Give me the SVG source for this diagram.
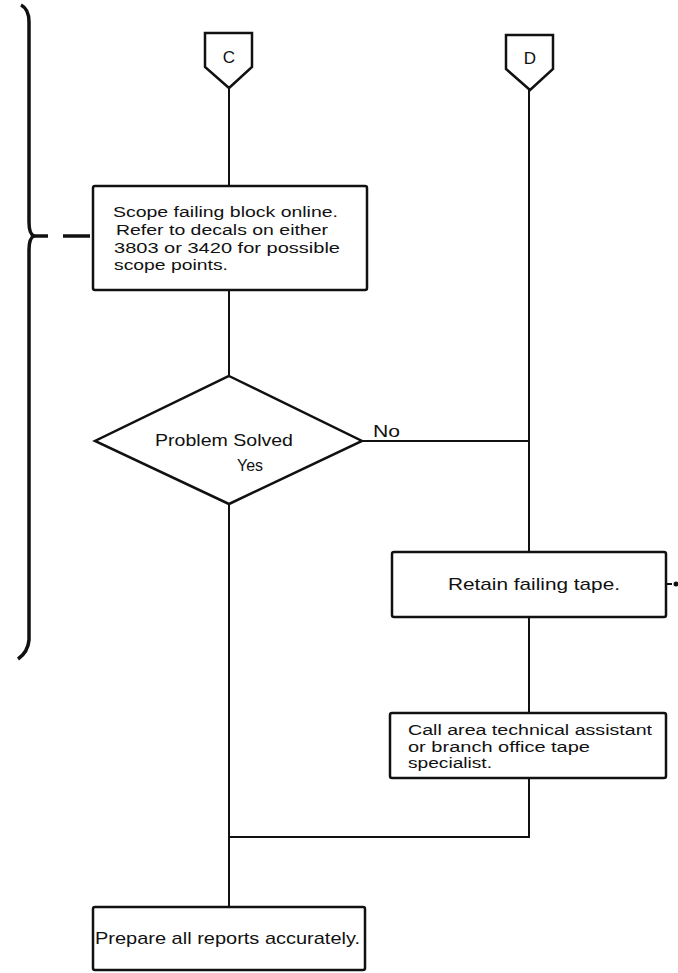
<svg xmlns="http://www.w3.org/2000/svg" width="678" height="973" viewBox="0 0 678 973">
<style>
.box{fill:#fff;stroke:#111;stroke-width:2.5;}
.ln{fill:none;stroke:#111;stroke-width:2;}
.t{font-family:"Liberation Sans",Arial,sans-serif;font-size:17px;fill:#111;}
.m{font-size:15.5px;}
.c{text-anchor:middle;}
</style>
<rect width="678" height="973" fill="#fff"/>
<g id="bracket">
<path d="M21,5 Q29,9 29,22 L29,222 Q29,234 34,236 Q29,238 29,250 L29,640 Q28,652 18,659" fill="none" stroke="#111" stroke-width="3.5"/>
<path d="M34,236 L48,236 M63,236 L90,236" fill="none" stroke="#111" stroke-width="3.5"/>
</g>
<g id="connectors">
<path class="ln" d="M229,88 L229,186"/>
<path class="ln" d="M229,290 L229,376"/>
<path class="ln" d="M229,504 L229,907"/>
<path class="ln" d="M362,441 L529,441"/>
<path class="ln" d="M529,90 L529,552"/>
<path class="ln" d="M529,617 L529,713"/>
<path class="ln" d="M529,778 L529,837 L229,837"/>
<path class="ln" d="M666,584 L672,584"/>
<circle cx="676" cy="584" r="2.5" fill="#111"/>
</g>
<g id="nodeC">
<path class="box" d="M205,33 L252,33 L252,67 L229,88 L205,67 Z"/>
<text class="t c" x="229" y="63">C</text>
</g>
<g id="nodeD">
<path class="box" d="M506,35 L553,35 L553,69 L530,90 L506,69 Z"/>
<text class="t c" x="530" y="64">D</text>
</g>
<g id="scope">
<rect class="box" x="93" y="186" width="274" height="104" rx="2"/>
<text class="t m" x="113" y="217" textLength="225" lengthAdjust="spacingAndGlyphs">Scope failing block online.</text>
<text class="t m" x="116" y="235" textLength="212" lengthAdjust="spacingAndGlyphs">Refer to decals on either</text>
<text class="t m" x="114" y="253" textLength="226" lengthAdjust="spacingAndGlyphs">3803 or 3420 for possible</text>
<text class="t m" x="114" y="270" textLength="114" lengthAdjust="spacingAndGlyphs">scope points.</text>
</g>
<g id="decision">
<path class="box" d="M229,376 L362,441 L229,504 L95,441 Z"/>
<text class="t" x="155" y="446" textLength="138" lengthAdjust="spacingAndGlyphs">Problem Solved</text>
<text class="t" x="373" y="437" textLength="27" lengthAdjust="spacingAndGlyphs">No</text>
<text class="t" x="237" y="471" textLength="26" lengthAdjust="spacingAndGlyphs">Yes</text>
</g>
<g id="retain">
<rect class="box" x="392" y="552" width="274" height="65" rx="2"/>
<text class="t" x="448" y="590" textLength="172" lengthAdjust="spacingAndGlyphs">Retain failing tape.</text>
</g>
<g id="call">
<rect class="box" x="390" y="713" width="276" height="65" rx="2"/>
<text class="t m" x="408" y="735" textLength="244" lengthAdjust="spacingAndGlyphs">Call area technical assistant</text>
<text class="t m" x="408" y="752" textLength="182" lengthAdjust="spacingAndGlyphs">or branch office tape</text>
<text class="t m" x="408" y="768" textLength="84" lengthAdjust="spacingAndGlyphs">specialist.</text>
</g>
<g id="prepare">
<rect class="box" x="93" y="907" width="272" height="63" rx="2"/>
<text class="t" x="95" y="944" textLength="265" lengthAdjust="spacingAndGlyphs">Prepare all reports accurately.</text>
</g>
</svg>
